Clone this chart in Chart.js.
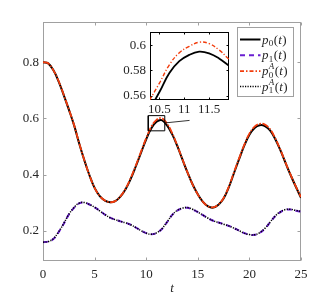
<!DOCTYPE html>
<html>
<head>
<meta charset="utf-8">
<script src="https://cdn.jsdelivr.net/npm/chart.js@4"></script>
<style>
  body { margin: 0; background: #fff; }
  #wrap { position: relative; width: 332px; height: 299px; }
  #main { position: absolute; left: 0; top: 0; }
  #inset { position: absolute; left: 100px; top: 20px; }
</style>
</head>
<body>
<div id="wrap">
  <canvas id="main" width="332" height="299"></canvas>
  <canvas id="inset" width="135" height="100"></canvas>
</div>
<script>
// time samples (t)
const tVals = [0, 0.5, 1, 1.5, 2, 2.5, 3, 3.5, 4, 4.5, 5, 5.5, 6, 6.5, 7, 7.5, 8, 8.5, 9, 9.5,
  10, 10.5, 11, 11.5, 12, 12.5, 13, 13.5, 14, 14.5, 15, 15.5, 16, 16.5, 17, 17.5, 18, 18.5, 19, 19.5,
  20, 20.5, 21, 21.5, 22, 22.5, 23, 23.5, 24, 24.5, 25];

const p0 = [0.800, 0.796, 0.772, 0.733, 0.684, 0.632, 0.577, 0.512, 0.452, 0.398, 0.353, 0.324, 0.308, 0.302, 0.306, 0.322, 0.348, 0.385, 0.430, 0.478,
  0.526, 0.565, 0.588, 0.594, 0.576, 0.545, 0.503, 0.455, 0.408, 0.365, 0.330, 0.303, 0.287, 0.283, 0.293, 0.315, 0.355, 0.405, 0.455, 0.503,
  0.542, 0.566, 0.576, 0.573, 0.558, 0.527, 0.487, 0.442, 0.398, 0.357, 0.318];

const p1 = [0.160, 0.162, 0.171, 0.195, 0.225, 0.258, 0.282, 0.298, 0.301, 0.294, 0.284, 0.272, 0.258, 0.247, 0.240, 0.234, 0.229, 0.222, 0.212, 0.201,
  0.192, 0.188, 0.193, 0.206, 0.230, 0.256, 0.272, 0.280, 0.282, 0.276, 0.267, 0.256, 0.245, 0.236, 0.230, 0.224, 0.218, 0.210, 0.201, 0.192,
  0.187, 0.186, 0.193, 0.208, 0.230, 0.252, 0.267, 0.275, 0.276, 0.272, 0.268];

const p0A = [0.800, 0.796, 0.772, 0.734, 0.685, 0.633, 0.578, 0.513, 0.452, 0.398, 0.353, 0.324, 0.308, 0.302, 0.306, 0.323, 0.350, 0.388, 0.433, 0.482,
  0.530, 0.571, 0.595, 0.601, 0.583, 0.549, 0.505, 0.456, 0.408, 0.365, 0.330, 0.303, 0.287, 0.284, 0.294, 0.317, 0.357, 0.408, 0.458, 0.506,
  0.546, 0.571, 0.581, 0.578, 0.562, 0.530, 0.489, 0.443, 0.399, 0.358, 0.320];

const p1A = [0.160, 0.162, 0.172, 0.196, 0.226, 0.259, 0.283, 0.299, 0.301, 0.294, 0.284, 0.271, 0.258, 0.247, 0.240, 0.234, 0.229, 0.222, 0.212, 0.201,
  0.192, 0.188, 0.193, 0.207, 0.231, 0.256, 0.273, 0.281, 0.283, 0.277, 0.267, 0.256, 0.245, 0.236, 0.230, 0.224, 0.218, 0.210, 0.201, 0.192,
  0.187, 0.186, 0.194, 0.209, 0.231, 0.253, 0.268, 0.276, 0.277, 0.273, 0.269];

// zoomed region (inset)
const insetT = [10.3, 10.5, 10.7, 10.9, 11.1, 11.3, 11.5, 11.7, 11.9];
const insetP0 = [0.5490, 0.5630, 0.5780, 0.5873, 0.5923, 0.5948, 0.5935, 0.5895, 0.5837];
const insetP0A = [0.5565, 0.5700, 0.5845, 0.5940, 0.5990, 0.6023, 0.6012, 0.5962, 0.5888];

// ticks
const xTicks = [0, 5, 10, 15, 20, 25];
const yTicks = [0.2, 0.4, 0.6, 0.8];
const insetXTicks = [10.5, 11, 11.5];
const insetYTicks = [0.56, 0.58, 0.6];

// zoom box + connector in main axes
const zoomBoxX = [10.2, 11.8, 11.8, 10.2, 10.2];
const zoomBoxY = [0.556, 0.556, 0.61, 0.61, 0.556];
const connectorX = [11.8, 14.2];
const connectorY = [0.584, 0.593];

const FONT = 'Liberation Serif';
const TXT = '#262626';

function pts(xs, ys) {
  return xs.map((x, i) => ({x: x, y: ys[i]}));
}

function boxPlugin(id, color, tickLen, fillBg) {
  return {
    id: id,
    beforeDatasetsDraw(chart) {
      const ctx = chart.ctx;
      const a = chart.chartArea;
      const sx = chart.scales.x, sy = chart.scales.y;
      ctx.save();
      if (fillBg) {
        ctx.fillStyle = '#fff';
        ctx.fillRect(a.left, a.top, a.right - a.left, a.bottom - a.top);
      }
      ctx.strokeStyle = color;
      ctx.lineWidth = 1;
      const L = Math.round(a.left) + 0.5, R = Math.round(a.right) - 0.5;
      const T = Math.round(a.top) + 0.5, B = Math.round(a.bottom) - 0.5;
      ctx.strokeRect(L, T, R - L, B - T);
      ctx.beginPath();
      sx.ticks.forEach(tk => {
        const px = Math.round(sx.getPixelForValue(tk.value)) + 0.5;
        ctx.moveTo(px, B); ctx.lineTo(px, B - tickLen);
        ctx.moveTo(px, T); ctx.lineTo(px, T + tickLen);
      });
      sy.ticks.forEach(tk => {
        const py = Math.round(sy.getPixelForValue(tk.value)) + 0.5;
        ctx.moveTo(L, py); ctx.lineTo(L + tickLen, py);
        ctx.moveTo(R, py); ctx.lineTo(R - tickLen, py);
      });
      ctx.stroke();
      ctx.restore();
    }
  };
}

const legendItems = [
  {sub: '0', sup: '', color: '#000000', dash: [], width: 2},
  {sub: '1', sup: '', color: '#6a1fd1', dash: [5, 4], width: 2},
  {sub: '0', sup: 'A', color: '#f23c0c', dash: [4, 2, 1.5, 2], width: 1.7},
  {sub: '1', sup: 'A', color: '#000000', dash: [1.2, 1.3], width: 1.5}
];

const legendPlugin = {
  id: 'mathLegend',
  afterDraw(chart) {
    const ctx = chart.ctx;
    ctx.save();
    ctx.fillStyle = '#fff';
    ctx.fillRect(237.5, 27.5, 56, 69);
    ctx.strokeStyle = '#a0a0a0';
    ctx.lineWidth = 1;
    ctx.strokeRect(237.5, 27.5, 56, 69);
    const rows = [39.5, 55.3, 71.2, 86.5];
    legendItems.forEach((it, i) => {
      const y = rows[i];
      ctx.strokeStyle = it.color;
      ctx.lineWidth = it.width;
      ctx.setLineDash(it.dash);
      ctx.beginPath();
      ctx.moveTo(240, y);
      ctx.lineTo(260.5, y);
      ctx.stroke();
      ctx.setLineDash([]);
      ctx.fillStyle = TXT;
      ctx.textBaseline = 'alphabetic';
      let x = 262;
      const base = y + 4;
      ctx.font = 'italic 13px "' + FONT + '"';
      ctx.fillText('p', x, base);
      x += ctx.measureText('p').width;
      ctx.font = '9px "' + FONT + '"';
      ctx.fillText(it.sub, x + 0.3, base + 2.5);
      let w = ctx.measureText(it.sub).width;
      if (it.sup) {
        ctx.font = 'italic 9px "' + FONT + '"';
        ctx.fillText(it.sup, x + 0.3, base - 6);
        w = Math.max(w, ctx.measureText(it.sup).width);
      }
      x += w + 0.8;
      ctx.font = '13px "' + FONT + '"';
      ctx.fillText('(', x, base);
      x += ctx.measureText('(').width;
      ctx.font = 'italic 13px "' + FONT + '"';
      ctx.fillText('t', x, base);
      x += ctx.measureText('t').width + 0.5;
      ctx.font = '13px "' + FONT + '"';
      ctx.fillText(')', x, base);
    });
    ctx.restore();
  }
};

// higher "order" is drawn first (underneath)
function lineSet(data, color, width, dash, order, tension) {
  return {
    data: data,
    borderColor: color,
    borderWidth: width,
    borderDash: dash,
    pointRadius: 0,
    fill: false,
    tension: tension,
    order: order
  };
}

function tickOpts(pad) {
  return {
    padding: pad,
    color: TXT,
    font: {family: FONT, size: 13},
    maxRotation: 0,
    autoSkip: false,
    callback: v => String(v)
  };
}

new Chart(document.getElementById('main'), {
  type: 'line',
  data: {
    datasets: [
      lineSet(pts(tVals, p0), '#000000', 2, [], 6, 0.4),
      lineSet(pts(tVals, p1), '#6a1fd1', 2, [5, 4], 5, 0.4),
      lineSet(pts(tVals, p0A), '#f23c0c', 1.8, [7, 1.5, 1.5, 1.5], 4, 0.4),
      lineSet(pts(tVals, p1A), '#000000', 1.5, [1.2, 1.3], 3, 0.4),
      lineSet(pts(zoomBoxX, zoomBoxY), '#000000', 1, [], 2, 0),
      lineSet(pts(connectorX, connectorY), '#000000', 0.8, [], 1, 0)
    ]
  },
  options: {
    responsive: false,
    animation: false,
    events: [],
    layout: {padding: {top: 22, right: 31, left: 0, bottom: 0}},
    plugins: {legend: {display: false}, tooltip: {enabled: false}},
    scales: {
      x: {
        type: 'linear', min: 0, max: 25,
        grid: {display: false, drawTicks: false},
        border: {display: false},
        ticks: tickOpts(6),
        afterBuildTicks: s => { s.ticks = xTicks.map(v => ({value: v})); },
        afterFit: s => { s.height = 38; },
        title: {display: true, text: 't', color: TXT, font: {family: FONT, size: 13, style: 'italic'}, padding: {top: 0, bottom: 3}}
      },
      y: {
        type: 'linear', min: 0.093, max: 0.943,
        grid: {display: false, drawTicks: false},
        border: {display: false},
        ticks: tickOpts(4),
        afterBuildTicks: s => { s.ticks = yTicks.map(v => ({value: v})); },
        afterFit: s => { s.width = 43; }
      }
    }
  },
  plugins: [boxPlugin('mainBox', '#a0a0a0', 3, false), legendPlugin]
});

new Chart(document.getElementById('inset'), {
  type: 'line',
  data: {
    datasets: [
      lineSet(pts(insetT, insetP0), '#000000', 1.8, [], 2, 0.4),
      lineSet(pts(insetT, insetP0A), '#f23c0c', 1.4, [4, 2, 1.2, 2], 1, 0.4)
    ]
  },
  options: {
    responsive: false,
    animation: false,
    events: [],
    layout: {padding: {top: 10, right: 6, left: 0, bottom: 0}},
    plugins: {legend: {display: false}, tooltip: {enabled: false}},
    scales: {
      x: {
        type: 'linear', min: 10.31, max: 11.9,
        grid: {display: false, drawTicks: false},
        border: {display: false},
        ticks: tickOpts(2),
        afterBuildTicks: s => { s.ticks = insetXTicks.map(v => ({value: v})); },
        afterFit: s => { s.height = 20; }
      },
      y: {
        type: 'linear', min: 0.5567, max: 0.6105,
        grid: {display: false, drawTicks: false},
        border: {display: false},
        ticks: tickOpts(4),
        afterBuildTicks: s => { s.ticks = insetYTicks.map(v => ({value: v})); },
        afterFit: s => { s.width = 50; }
      }
    }
  },
  plugins: [boxPlugin('insetBox', '#000000', 2, true)]
});
</script>
</body>
</html>
